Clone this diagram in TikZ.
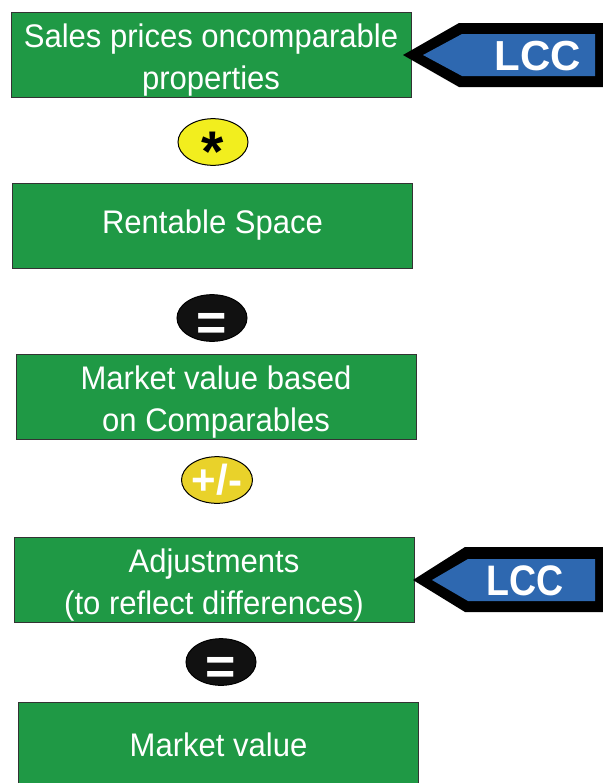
\documentclass[tikz,border=0pt]{standalone}
\usepackage{fontspec}
\setmainfont{Liberation Sans}[FakeStretch=0.95]
\newfontfamily\lccfont{Liberation Sans}
\newfontfamily\lccnarrow{Liberation Sans}[FakeStretch=0.88]
\usetikzlibrary{shapes.geometric}

\definecolor{boxgreen}{RGB}{31,153,69}
\definecolor{lccblue}{RGB}{46,104,176}
\definecolor{opyellow}{RGB}{242,238,30}
\definecolor{opgold}{RGB}{233,210,42}
\definecolor{opblack}{RGB}{17,17,17}

% strut that moves two-line box texts down a little
\newcommand{\firstline}{\rule{0pt}{25.5pt}}

\tikzset{
  stepbox/.style={draw=black!80, line width=0.6pt, fill=boxgreen, text=white,
    minimum width=300pt, minimum height=63.75pt, inner sep=0pt, align=center,
    font=\fontsize{24.5}{31.5}\selectfont},
  opoval/.style={ellipse, draw=black, line width=0.75pt, inner sep=0pt,
    minimum width=52.5pt, minimum height=35pt},
  lcctext/.style={text=white, inner sep=0pt, font=\lccfont\bfseries\fontsize{31.5}{31.5}\selectfont},
}

\begin{document}
\begin{tikzpicture}[x=0.75pt,y=0.75pt,yscale=-1,xscale=1]
\useasboundingbox (0,0) rectangle (603,783);

%Shape: Rectangle [sales prices]
\node [stepbox] (sales) at (211,55) {\firstline Sales prices oncomparable\\properties};
%Shape: Rectangle [rentable space]
\node [stepbox] (space) at (212.5,225.5) {Rentable Space};
%Shape: Rectangle [value on comparables]
\node [stepbox] (compvalue) at (216,396.5) {\firstline Market value based\\on Comparables};
%Shape: Rectangle [adjustments]
\node [stepbox] (adjust) at (214,580) {\firstline Adjustments\\(to reflect differences)};
%Shape: Rectangle [market value]
\node [stepbox] (mktvalue) at (218.5,745) {Market value};

%Shape: Ellipse [times]
\node [opoval, fill=opyellow, font=\lccfont\bfseries\fontsize{43}{43}\selectfont] (times) at (213,142) {\raisebox{-0.51em}[0pt][0pt]{*}};
%Shape: Ellipse [equals 1]
\node [opoval, fill=opblack, text=white, font=\lccfont\bfseries\fontsize{39}{39}\selectfont] (eqone) at (212,318) {\raisebox{-0.44em}[0pt][0pt]{=}};
%Shape: Ellipse [plus minus]
\node [opoval, fill=opgold, text=white, font=\lccfont\bfseries\fontsize{31.5}{31.5}\selectfont] (plusminus) at (217,480) {+/-};
%Shape: Ellipse [equals 2]
\node [opoval, fill=opblack, text=white, font=\lccfont\bfseries\fontsize{39}{39}\selectfont] (eqtwo) at (221,662) {\raisebox{-0.44em}[0pt][0pt]{=}};

%Shape: Pentagon arrow [LCC top]
\fill [black] (403,55) -- (459,23) -- (610,23) -- (610,87) -- (459,87) -- cycle;
\fill [lccblue] (423,55) -- (462,34) -- (595,34) -- (595,76) -- (462,76) -- cycle;
% Text Node
\node [lcctext] (lcctop) at (538,56) {LCC};

%Shape: Pentagon arrow [LCC bottom]
\fill [black] (413,580) -- (465,547) -- (610,547) -- (610,612) -- (465,612) -- cycle;
\fill [lccblue] (432,580) -- (468,559) -- (595,559) -- (595,601) -- (468,601) -- cycle;
% Text Node
\node [lcctext, font=\lccnarrow\bfseries\fontsize{32}{32}\selectfont] (lccbottom) at (525,581) {LCC};
\end{tikzpicture}
\end{document}
